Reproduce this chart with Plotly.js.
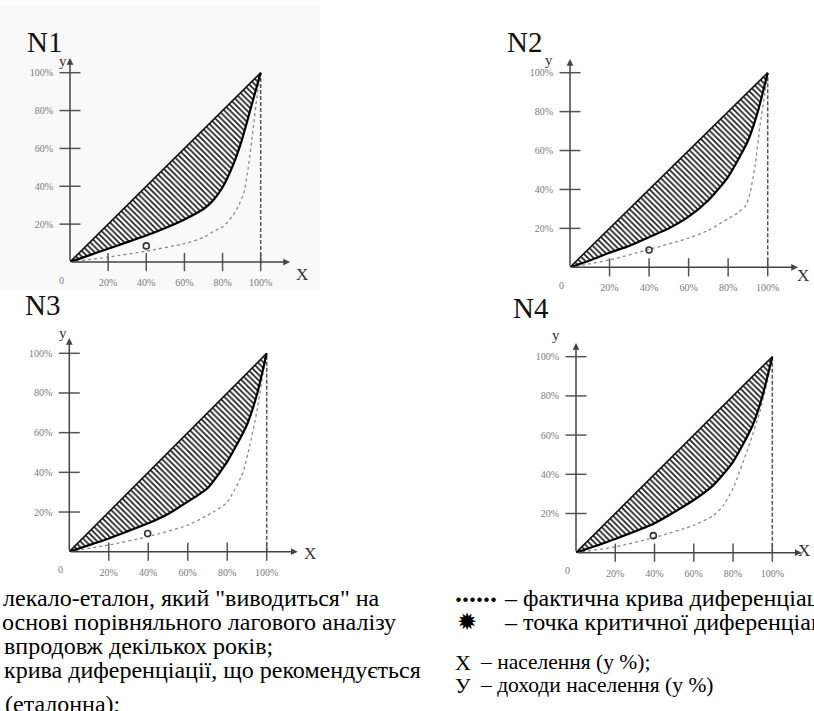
<!DOCTYPE html>
<html>
<head>
<meta charset="utf-8">
<script src="https://cdn.plot.ly/plotly-3.0.1.min.js"></script>
<style>html,body{margin:0;padding:0;background:#fff;}#chart{width:814px;height:711px;}</style>
</head>
<body>
<div id="chart"></div>
<script>
// ---------- data ----------
const tickValues = [20, 40, 60, 80, 100];
const tickLabels = ['20%', '40%', '60%', '80%', '100%'];
const equalityX = [0, 100];
const equalityY = [0, 100];
const borderX = [100, 100];
const borderY = [0, 100];

const panelNames = ['N1', 'N2', 'N3', 'N4'];

const n1ThickX = [0, 10, 20, 30, 40, 50, 60, 70, 75, 80, 85, 90, 95, 100];
const n1ThickY = [0, 3.5, 7, 10.5, 14, 18, 22.5, 28, 32.5, 39.5, 50, 64, 82, 100];
const n1DotX = [0, 20, 40, 60, 70, 75, 80, 85, 88, 91, 93.5, 96, 98, 100];
const n1DotY = [0, 2.6, 5.8, 9.7, 13, 16, 18.5, 24, 29, 36, 50, 70, 87, 100];
const n1Crit = [40, 8.5];

const n2ThickX = [0, 10, 20, 30, 40, 50, 60, 70, 80, 90, 95, 100];
const n2ThickY = [0, 3.5, 7.5, 11, 15.5, 20, 26, 34.5, 46.5, 65, 80, 100];
const n2DotX = [0, 20, 40, 60, 70, 80, 85, 89, 91, 93.6, 96, 98.5, 100];
const n2DotY = [0, 3.8, 9.2, 15, 19, 25, 28, 32, 38, 52, 72, 89, 100];
const n2Crit = [40, 8.9];

const n3ThickX = [0, 10, 20, 30, 40, 50, 60, 70, 80, 90, 95, 100];
const n3ThickY = [0, 3.3, 6.7, 10.5, 14.3, 19, 25.2, 32, 45.4, 64, 79, 100];
const n3DotX = [0, 20, 40, 60, 73, 80, 88, 91.5, 95, 98.3, 100];
const n3DotY = [0, 3.4, 7.6, 13.4, 20, 25, 40, 54, 70.6, 90.8, 100];
const n3Crit = [39.7, 9.2];

const n4ThickX = [0, 20, 40, 60, 70, 80, 90, 95, 100];
const n4ThickY = [0, 7, 15, 26.9, 34.5, 46.4, 65, 80, 100];
const n4DotX = [0, 20, 40, 60, 70, 75, 80, 87, 93.7, 98.6, 100];
const n4DotY = [0, 3, 7.8, 14, 19, 24, 32.8, 51.5, 72, 92.5, 100];
const n4Crit = [39.4, 8.7];

const thickXs = [n1ThickX, n2ThickX, n3ThickX, n4ThickX];
const thickYs = [n1ThickY, n2ThickY, n3ThickY, n4ThickY];
const dotXs = [n1DotX, n2DotX, n3DotX, n4DotX];
const dotYs = [n1DotY, n2DotY, n3DotY, n4DotY];
const crits = [n1Crit, n2Crit, n3Crit, n4Crit];

const legendLeft = [
  'лекало-еталон, який "виводиться" на',
  'основі порівняльного лагового аналізу',
  'впродовж декількох років;',
  'крива диференціації, що рекомендується',
  '(еталонна);'
];
const legendRight = [
  '– фактична крива диференціації;',
  '– точка критичної диференціації;',
  '– населення (у %);',
  '– доходи населення (у %)'
];

// ---------- layout geometry (pixels) ----------
const W = 814, H = 711;
const px = v => v / W;
const py = v => 1 - v / H;
const geo = [
  {o: [70, 262], x100: 260.7, y100: 72.7, xEnd: 290, yEnd: 58, title: [25, 24], ylab: [57, 51], xlab: [302, 274]},
  {o: [570, 267.3], x100: 767.7, y100: 72.7, xEnd: 798, yEnd: 59, title: [524, 24], ylab: [555, 50], xlab: [811, 276]},
  {o: [69.3, 551.7], x100: 266.7, y100: 353.3, xEnd: 297.7, yEnd: 338, title: [23, 305], ylab: [57, 333], xlab: [310, 565]},
  {o: [576, 552.7], x100: 772.3, y100: 356.7, xEnd: 801.7, yEnd: 343, title: [531, 308], ylab: [562, 335], xlab: [812, 562]}
];

const serif = 'Liberation Serif';
const traces = [];
const annotations = [];
const shapes = [];
const layout = {
  width: W, height: H, margin: {l: 0, r: 0, t: 0, b: 0},
  paper_bgcolor: '#ffffff', plot_bgcolor: 'rgba(0,0,0,0)',
  showlegend: false, font: {family: serif}
};

shapes.push({type: 'rect', xref: 'paper', yref: 'paper', x0: 0, x1: px(320), y0: py(290), y1: py(5),
  fillcolor: '#f9f9f9', line: {width: 0}, layer: 'below'});

geo.forEach((g, i) => {
  const s = i === 0 ? '' : String(i + 1);
  const xa = 'x' + s, ya = 'y' + s;
  const xmax = 100 * (g.xEnd - g.o[0]) / (g.x100 - g.o[0]);
  const ymax = 100 * (g.o[1] - g.yEnd) / (g.o[1] - g.y100);
  layout['xaxis' + s] = {
    domain: [px(g.o[0]), px(g.xEnd)], range: [0, xmax], anchor: ya,
    showgrid: false, zeroline: false, showline: false, fixedrange: true,
    tickmode: 'array', tickvals: tickValues, ticktext: tickLabels,
    ticks: 'outside', ticklen: 11, tickcolor: 'rgba(0,0,0,0)',
    tickfont: {family: serif, size: 10, color: '#7a7a7a'}
  };
  layout['yaxis' + s] = {
    domain: [py(g.o[1]), py(g.yEnd)], range: [0, ymax], anchor: xa,
    showgrid: false, zeroline: false, showline: false, fixedrange: true,
    tickmode: 'array', tickvals: tickValues, ticktext: tickLabels,
    ticks: 'outside', ticklen: 14, tickcolor: 'rgba(0,0,0,0)',
    tickfont: {family: serif, size: 10, color: '#7a7a7a'}
  };

  // hatched region between equality line and recommended curve
  traces.push({x: thickXs[i], y: thickYs[i], xaxis: xa, yaxis: ya, type: 'scatter', mode: 'lines',
    line: {width: 0, shape: 'spline', smoothing: 0.6}, fill: 'toself', fillcolor: 'rgba(0,0,0,0)',
    fillpattern: {shape: '\\', fgcolor: '#1a1a1a', bgcolor: '#ffffff', size: 4, solidity: 0.42},
    hoverinfo: 'skip'});
  // dotted actual curve
  traces.push({x: dotXs[i], y: dotYs[i], xaxis: xa, yaxis: ya, type: 'scatter', mode: 'lines',
    line: {width: 1.3, color: '#8a8a8a', dash: 'dot', shape: 'spline', smoothing: 0.6}, hoverinfo: 'skip'});
  // vertical dashed border at 100%
  traces.push({x: borderX, y: borderY, xaxis: xa, yaxis: ya, type: 'scatter', mode: 'lines',
    line: {width: 1.5, color: '#555', dash: '4px,2px'}, hoverinfo: 'skip'});
  // equality line
  traces.push({x: equalityX, y: equalityY, xaxis: xa, yaxis: ya, type: 'scatter', mode: 'lines',
    line: {width: 1.6, color: '#111'}, hoverinfo: 'skip'});
  // recommended curve
  traces.push({x: thickXs[i], y: thickYs[i], xaxis: xa, yaxis: ya, type: 'scatter', mode: 'lines',
    line: {width: 2.2, color: '#000', shape: 'spline', smoothing: 0.6}, hoverinfo: 'skip'});
  // tick marks crossing the axes
  traces.push({x: tickValues, y: tickValues.map(() => 0), xaxis: xa, yaxis: ya, type: 'scatter', mode: 'markers',
    cliponaxis: false, marker: {symbol: 'line-ns-open', size: 13, color: '#555', line: {width: 1.5, color: '#555'}}, hoverinfo: 'skip'});
  traces.push({x: tickValues.map(() => 0), y: tickValues, xaxis: xa, yaxis: ya, type: 'scatter', mode: 'markers',
    cliponaxis: false, marker: {symbol: 'line-ew-open', size: 15, color: '#555', line: {width: 1.5, color: '#555'}}, hoverinfo: 'skip'});
  // critical point
  traces.push({x: [crits[i][0]], y: [crits[i][1]], xaxis: xa, yaxis: ya, type: 'scatter', mode: 'markers',
    cliponaxis: false, marker: {symbol: 'circle-open', size: 6, color: '#333', line: {width: 1.6, color: '#333'}}, hoverinfo: 'skip'});

  // axis arrows
  annotations.push({xref: xa, yref: ya, x: xmax, y: 0, axref: xa, ayref: ya, ax: 0, ay: 0, text: '',
    showarrow: true, arrowhead: 2, arrowsize: 0.9, arrowwidth: 1.5, arrowcolor: '#444', standoff: 0, startstandoff: 0});
  annotations.push({xref: xa, yref: ya, x: 0, y: ymax, axref: xa, ayref: ya, ax: 0, ay: 0, text: '',
    showarrow: true, arrowhead: 2, arrowsize: 0.9, arrowwidth: 1.5, arrowcolor: '#444', standoff: 0, startstandoff: 0});
  // "0" label
  annotations.push({xref: xa, yref: ya, x: 0, y: 0, xshift: -9, yshift: -18, text: '0', showarrow: false,
    font: {family: serif, size: 10, color: '#7a7a7a'}});
  // panel title and axis letters
  annotations.push({xref: 'paper', yref: 'paper', x: px(g.title[0]), y: py(g.title[1]), text: panelNames[i],
    showarrow: false, font: {family: serif, size: 29, color: '#111'}});
  annotations.push({xref: 'paper', yref: 'paper', x: px(g.ylab[0]), y: py(g.ylab[1]), text: 'y',
    showarrow: false, font: {family: serif, size: 15, color: '#333'}});
  annotations.push({xref: 'paper', yref: 'paper', x: px(g.xlab[0]), y: py(g.xlab[1]), text: 'X',
    showarrow: false, font: {family: serif, size: 17, color: '#333'}});
});

// legend text, left column
const leftY = [598, 622, 646, 670, 704];
const leftX = [1, 0, 2, 2, 3];
legendLeft.forEach((t, k) => {
  annotations.push({xref: 'paper', yref: 'paper', x: px(leftX[k]), y: py(leftY[k]), xanchor: 'left', yanchor: 'middle',
    text: t, showarrow: false, font: {family: serif, size: 24, color: '#000'}});
});
// right column
const rightY = [598, 622, 662, 685];
const rightSize = [24, 24, 21.5, 21.5];
annotations.push({xref: 'paper', yref: 'paper', x: px(453), y: py(592), xanchor: 'left', yanchor: 'middle',
  text: '<b>......</b>', showarrow: false, font: {family: serif, size: 28, color: '#000'}});
annotations.push({xref: 'paper', yref: 'paper', x: px(467), y: py(622), xanchor: 'center', yanchor: 'middle',
  text: '✹', showarrow: false, font: {family: 'DejaVu Sans', size: 24, color: '#000'}});
annotations.push({xref: 'paper', yref: 'paper', x: px(463), y: py(662), xanchor: 'center', yanchor: 'middle',
  text: 'X', showarrow: false, font: {family: serif, size: 22, color: '#000'}});
annotations.push({xref: 'paper', yref: 'paper', x: px(463), y: py(685), xanchor: 'center', yanchor: 'middle',
  text: 'У', showarrow: false, font: {family: serif, size: 22, color: '#000'}});
const rightX = [502, 502, 478, 478];
legendRight.forEach((t, k) => {
  annotations.push({xref: 'paper', yref: 'paper', x: px(rightX[k]), y: py(rightY[k]), xanchor: 'left', yanchor: 'middle',
    text: t, showarrow: false, font: {family: serif, size: rightSize[k], color: '#000'}});
});

layout.annotations = annotations;
layout.shapes = shapes;
Plotly.newPlot('chart', traces, layout, {staticPlot: true, displayModeBar: false});
</script>
</body>
</html>
